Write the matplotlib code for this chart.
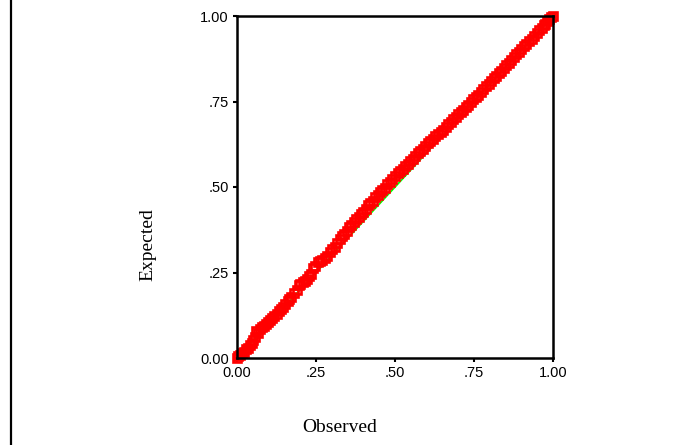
import matplotlib
matplotlib.use('Agg')
import matplotlib.pyplot as plt
from matplotlib.lines import Line2D

# --- DATA ---
observed = [0.000, 0.004, 0.010, 0.016, 0.022, 0.028, 0.034, 0.040, 0.046, 0.050,
            0.056, 0.060, 0.066, 0.072, 0.078, 0.085, 0.092, 0.098, 0.105, 0.112,
            0.118, 0.125, 0.132, 0.140, 0.147, 0.153, 0.160, 0.166, 0.172, 0.180,
            0.190, 0.195, 0.200, 0.208, 0.215, 0.220, 0.228, 0.235, 0.240, 0.248,
            0.255, 0.262, 0.270, 0.278, 0.286, 0.294, 0.302, 0.310, 0.318, 0.325,
            0.332, 0.340, 0.348, 0.355, 0.362, 0.370, 0.378, 0.385, 0.392, 0.400,
            0.408, 0.415, 0.422, 0.430, 0.438, 0.445, 0.452, 0.460, 0.468, 0.476,
            0.484, 0.492, 0.500, 0.508, 0.516, 0.524, 0.532, 0.540, 0.548, 0.556,
            0.564, 0.572, 0.580, 0.588, 0.596, 0.604, 0.612, 0.620, 0.628, 0.636,
            0.644, 0.652, 0.660, 0.668, 0.676, 0.684, 0.692, 0.700, 0.708, 0.716,
            0.724, 0.732, 0.740, 0.748, 0.756, 0.764, 0.772, 0.780, 0.788, 0.796,
            0.804, 0.812, 0.820, 0.828, 0.836, 0.844, 0.852, 0.860, 0.868, 0.876,
            0.884, 0.892, 0.900, 0.908, 0.916, 0.924, 0.932, 0.940, 0.948, 0.956,
            0.964, 0.970, 0.976, 0.982, 0.988, 0.994, 1.000]
expected = [0.000, 0.005, 0.008, 0.014, 0.018, 0.026, 0.030, 0.038, 0.044, 0.052,
            0.060, 0.080, 0.072, 0.085, 0.090, 0.095, 0.100, 0.106, 0.110, 0.118,
            0.124, 0.130, 0.136, 0.142, 0.150, 0.158, 0.166, 0.172, 0.178, 0.190,
            0.200, 0.212, 0.215, 0.222, 0.226, 0.232, 0.240, 0.246, 0.262, 0.270,
            0.280, 0.284, 0.288, 0.292, 0.298, 0.310, 0.318, 0.326, 0.336, 0.348,
            0.356, 0.362, 0.372, 0.382, 0.390, 0.398, 0.405, 0.412, 0.420, 0.428,
            0.436, 0.446, 0.452, 0.460, 0.470, 0.478, 0.484, 0.490, 0.498, 0.508,
            0.516, 0.524, 0.532, 0.540, 0.546, 0.552, 0.560, 0.568, 0.575, 0.582,
            0.590, 0.598, 0.604, 0.612, 0.620, 0.628, 0.634, 0.640, 0.648, 0.656,
            0.662, 0.668, 0.676, 0.684, 0.690, 0.698, 0.704, 0.712, 0.718, 0.726,
            0.734, 0.740, 0.748, 0.756, 0.762, 0.770, 0.778, 0.786, 0.794, 0.800,
            0.810, 0.818, 0.826, 0.832, 0.840, 0.848, 0.856, 0.864, 0.872, 0.880,
            0.888, 0.896, 0.904, 0.912, 0.918, 0.926, 0.934, 0.942, 0.950, 0.958,
            0.966, 0.974, 0.978, 0.984, 0.990, 0.996, 1.000]
ticks = [0.0, 0.25, 0.5, 0.75, 1.0]
tick_labels = ['0.00', '.25', '.50', '.75', '1.00']

# --- PLOT ---
fig = plt.figure(figsize=(6.88, 4.45), dpi=100)
ax = fig.add_axes([237 / 688, 87 / 445, 316 / 688, 342 / 445])

# reference diagonal
ax.plot([0, 1], [0, 1], color='#00ff00', linewidth=1.3, zorder=1)

ax.plot(observed, expected, linestyle='none', marker='s', markersize=5.8,
        markerfacecolor='none', markeredgecolor='#ff0000', markeredgewidth=1.9,
        clip_on=False, zorder=2)

ax.set_xlim(0, 1)
ax.set_ylim(0, 1)
ax.set_xticks(ticks)
ax.set_xticklabels(tick_labels)
ax.set_yticks(ticks)
ax.set_yticklabels(tick_labels)
for lab in ax.get_xticklabels() + ax.get_yticklabels():
    lab.set_fontfamily('Liberation Sans')
    lab.set_fontsize(10.5)
ax.tick_params(direction='out', length=3, width=1.5, pad=3)
for s in ax.spines.values():
    s.set_linewidth(1.8)

fig.text(340 / 688, 1 - 428 / 445, 'Observed', family='Liberation Serif',
         fontsize=14, ha='center', va='center')
fig.text(148 / 688, 1 - 245 / 445, 'Expected', family='Liberation Serif',
         fontsize=14, ha='center', va='center', rotation=90)

# frame line at the left edge
fig.add_artist(Line2D([11 / 688, 11 / 688], [0, 1], color='black', linewidth=1.6))

fig.savefig('out.png', dpi=100)
